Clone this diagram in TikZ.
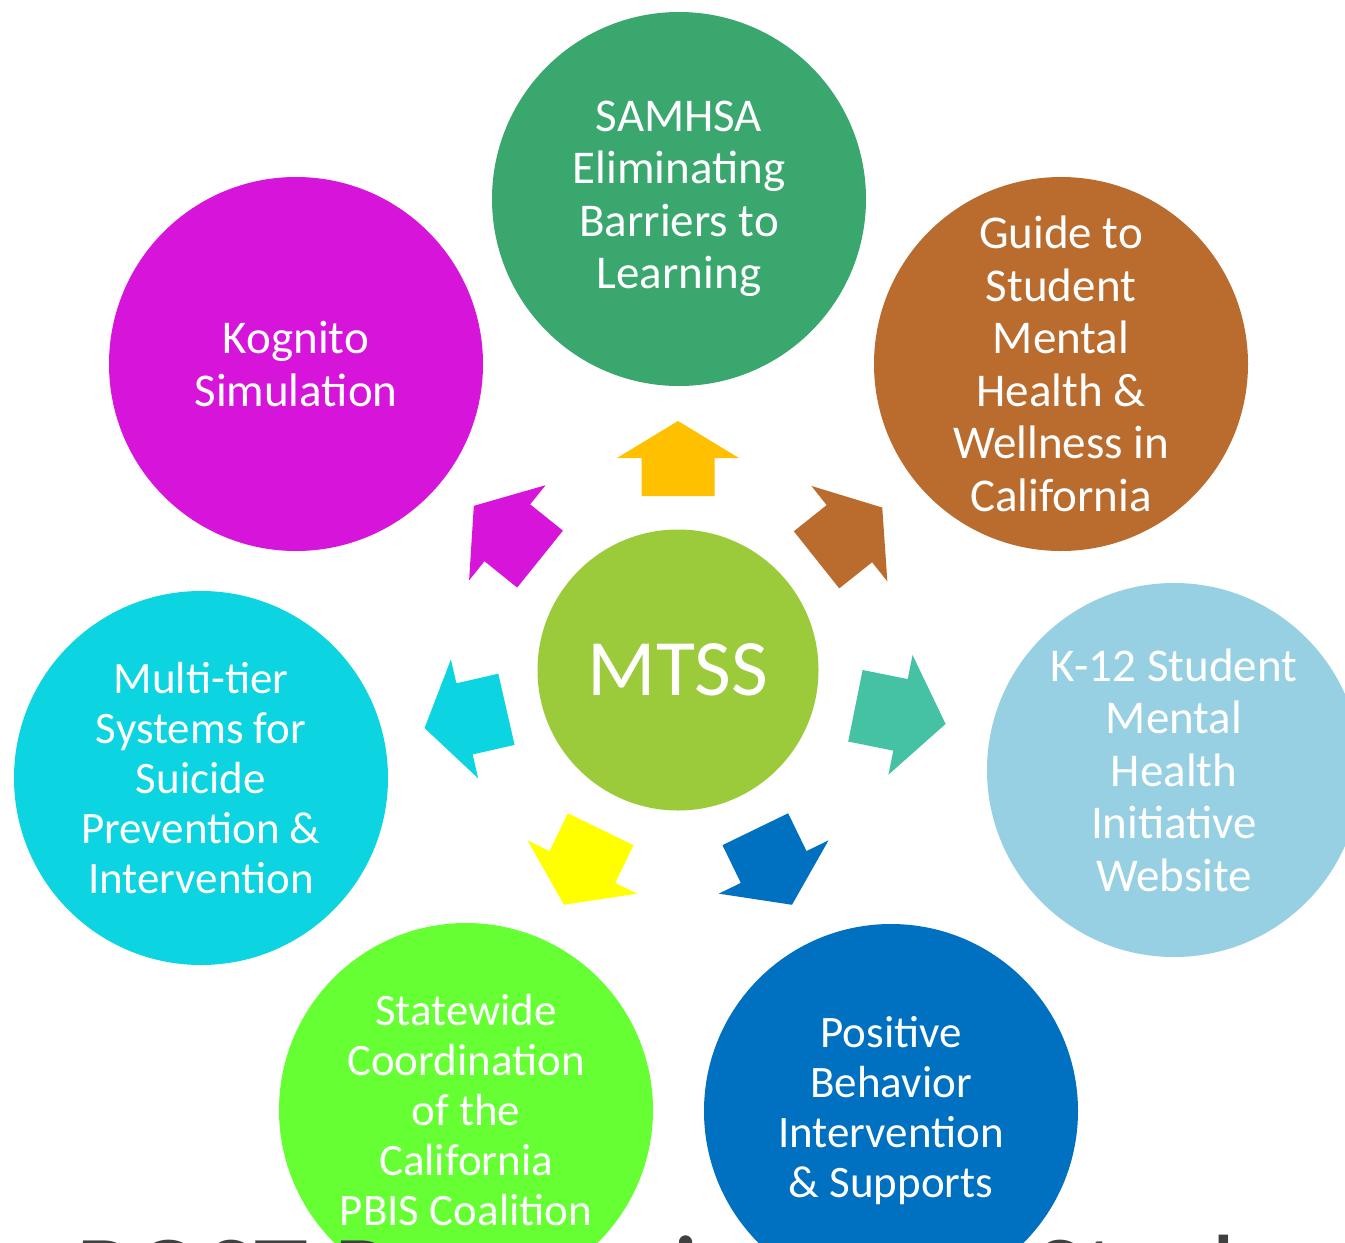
\documentclass[tikz,border=0pt]{standalone}
\usepackage{fontspec}
\setmainfont{Carlito}
\definecolor{samhsa}{HTML}{3AA76E}
\definecolor{kognito}{HTML}{D614DA}
\definecolor{guide}{HTML}{BA6C2E}
\definecolor{kweb}{HTML}{96D0E2}
\definecolor{suicide}{HTML}{0CD4E0}
\definecolor{pbiscoal}{HTML}{66FF33}
\definecolor{pbis}{HTML}{0070C0}
\definecolor{mtss}{HTML}{9BCB3B}
\definecolor{arrorange}{HTML}{FFC000}
\definecolor{arrteal}{HTML}{45C1A4}
\definecolor{arryellow}{HTML}{FFFF00}
\definecolor{titlegray}{HTML}{404040}
% block arrow pointing away from the hub: colour, angle, base, head start, tip
\newcommand\hubarrow[5]{%
  \begin{scope}[shift={(mtss.center)}, rotate=#2]
    \fill[#1] (#3,-36.5) -- (#4,-36.5) -- (#4,-61) -- (#5,0)
              -- (#4,61) -- (#4,36.5) -- (#3,36.5) -- cycle;
  \end{scope}}
\begin{document}
\begin{tikzpicture}[x=1pt, y=-1pt,
  bubble/.style={circle, minimum size=374pt, inner sep=0pt, text=white, align=center},
  bigtext/.style={font=\fontsize{47}{52.5}\selectfont},
  smalltext/.style={font=\fontsize{45}{50}\selectfont},
  titletext/.style={anchor=base west, inner sep=0pt, text=titlegray, font=\fontsize{110}{120}\selectfont}]
\useasboundingbox (0,0) rectangle (1345,1243);
\clip (0,0) rectangle (1345,1243);
\fill[white] (0,0) rectangle (1345,1243);

% outer resource circles
\node[bubble, bigtext, fill=samhsa] (samhsa) at (679,199) {SAMHSA\\Eliminating\\Barriers to\\Learning};
\node[bubble, bigtext, fill=kognito] (kognito) at (296,364) {Kognito\\Simulation};
\node[bubble, bigtext, fill=guide] (guide) at (1061,364) {Guide to\\Student\\Mental\\Health \&\\Wellness in\\California};
\node[bubble, bigtext, fill=kweb] (k12) at (1174,770) {K-12 Student\\Mental\\Health\\Initiative\\Website};
\node[bubble, smalltext, fill=suicide] (multitier) at (201,778) {Multi-tier\\Systems for\\Suicide\\Prevention \&\\Intervention};
\node[bubble, smalltext, fill=pbiscoal] (statewide) at (466,1110) {Statewide\\Coordination\\of the\\California\\PBIS Coalition};
\node[bubble, smalltext, fill=pbis] (positive) at (891,1111) {Positive\\Behavior\\Intervention\\\& Supports};

% hub
\node[circle, minimum size=281pt, inner sep=0pt, fill=mtss, text=white,
      font=\fontsize{80}{90}\selectfont] (mtss) at (678,670) {MTSS};

% arrows from the hub toward each circle
\hubarrow{arrorange}{90}{174}{212}{249}
\hubarrow{guide}{38.5}{177}{219}{261}
\hubarrow{arrteal}{-11.4}{181}{227}{273}
\hubarrow{pbis}{-64.1}{177}{219}{261}
\hubarrow{arryellow}{-115.9}{177}{219}{261}
\hubarrow{suicide}{192.9}{176}{219}{260}
\hubarrow{kognito}{141.2}{177}{219}{262}

% title running off the lower edge
\node[titletext] (title1) at (75,1311) {POST Reopening};
\node[titletext] (title2) at (1033,1311) {Students};
\end{tikzpicture}
\end{document}
